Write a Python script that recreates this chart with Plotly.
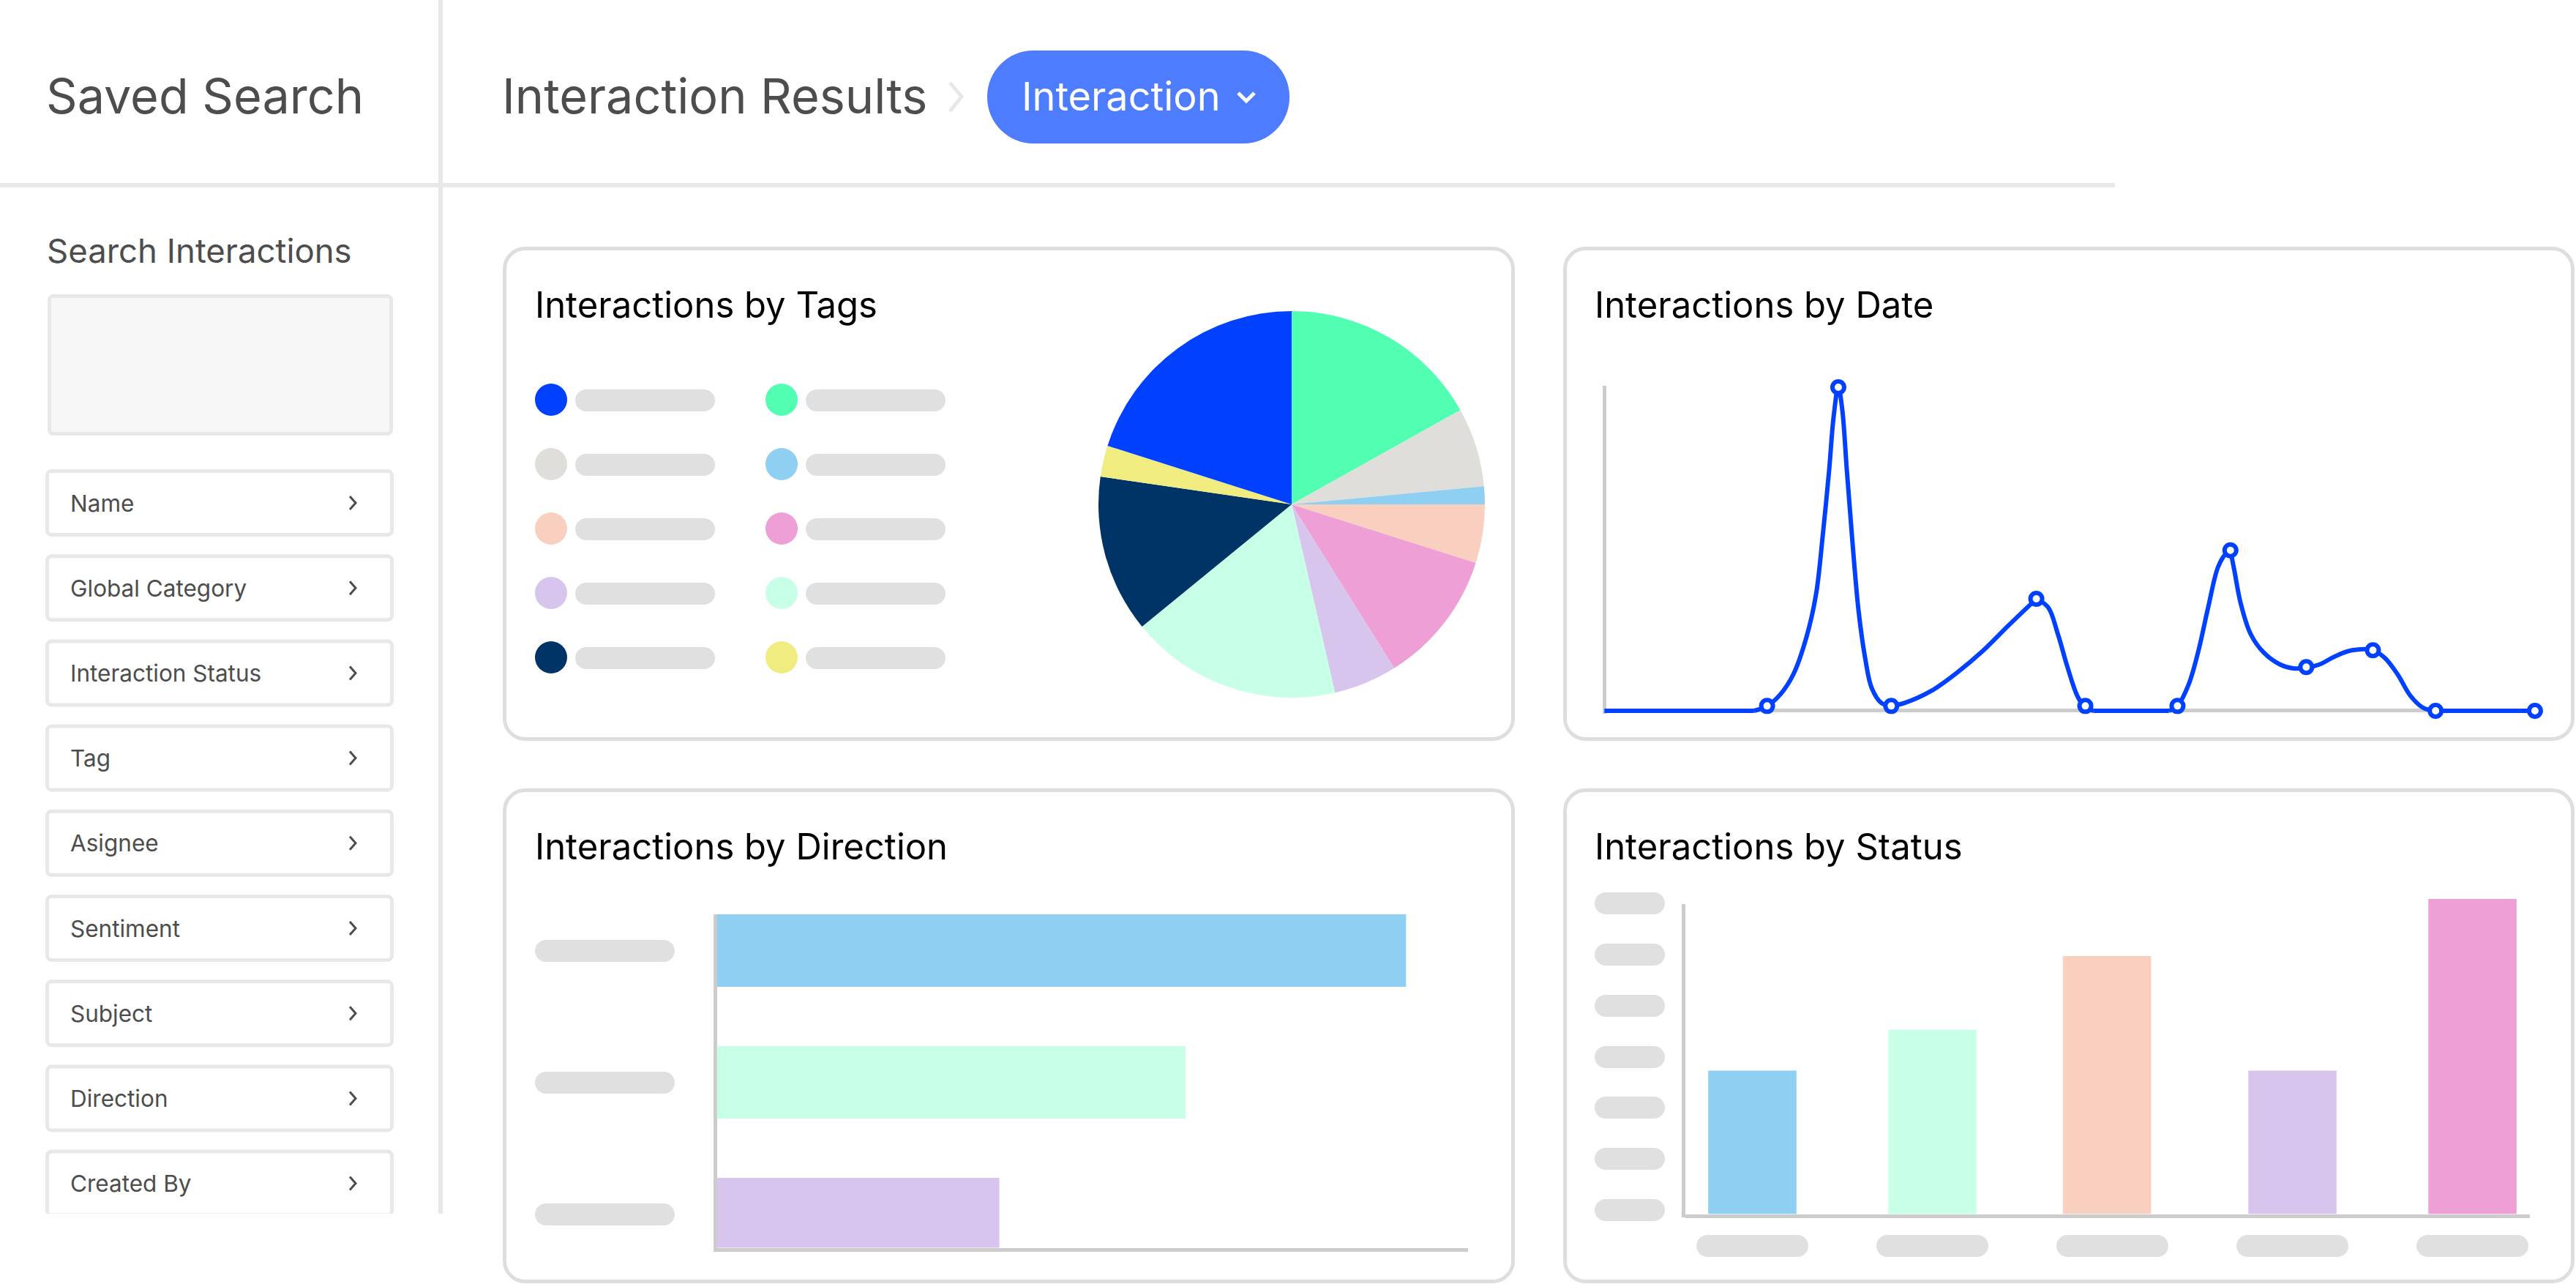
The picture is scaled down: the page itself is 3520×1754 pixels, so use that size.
import plotly.graph_objects as go

W, H = 3520, 1754
FONT = "Inter"
TEXT_GREY = "#4d4d4d"
RULE_GREY = "#e8e8e8"
CARD_GREY = "#dedede"
PILL_GREY = "#e0e0e0"
AXIS_GREY = "#cccccc"
BLUE = "#0040ff"

# sidebar
filter_labels = ["Name", "Global Category", "Interaction Status", "Tag", "Asignee",
                 "Sentiment", "Subject", "Direction", "Created By"]

# pie, clockwise from 12 o'clock
tag_values = [16.9, 6.6, 1.5, 4.9, 11.2, 5.3, 17.7, 13.2, 2.6, 20.1]
tag_colors = ["#52ffb2", "#dfdeda", "#8ecff2", "#f9cfc0", "#ee9fd5",
              "#d7c5ee", "#c8ffe7", "#003366", "#f0ec80", "#0040ff"]
legend_left = ["#0040ff", "#dfdeda", "#f9cfc0", "#d7c5ee", "#003366"]
legend_right = ["#52ffb2", "#8ecff2", "#ee9fd5", "#c8ffe7", "#f0ec80"]

# line chart, curve; None splits it where the original has a corner
date_x = [0, 229, None,
          229, 249, 269, 289, 309, 324, 334, 344, 351, 358, 364, 371, 379, 389,
          399, 409, 424, 439, None,
          439, 459, 499, 539, 579, 619, 661, None,
          661, 679, 694, 709, 724, 736, 749, None,
          749, 864, None,
          864, 877, 894, 909, 924, 939, 951, 958, None,
          958, 964, 974, 989, 1009, 1034, 1054, 1074,
          1094, 1119, 1144, 1176, 1194, 1214, 1234, 1254, 1272, None,
          1272, 1424]
date_y = [0, 0, None,
          0, 1.5, 5, 11.2, 22.6, 36.1, 53.8, 74.5, 91.2, 100, 93.2, 74.5, 53.8, 30.9,
          16.4, 7.1, 2.4, 1.5, None,
          1.5, 2.4, 6, 11.7, 18.5, 26.5, 34.6, None,
          34.6, 32, 23.7, 13.3, 4.5, 1.0, 0, None,
          0, 0, None,
          0, 1.5, 8.1, 18.5, 32, 44.4, 48.6, 49.6, None,
          49.6, 43.4, 33, 23.7, 18, 14.3, 13.1, 13.3,
          14.3, 16.9, 18.7, 18.7, 16.4, 11.2, 4.5, 0.8, 0, None,
          0, 0]
marker_x = [249, 358, 439, 661, 736, 877, 958, 1074, 1176, 1272, 1424]
marker_y = [1.5, 100, 1.5, 34.6, 1.5, 1.5, 49.6, 13.5, 18.7, 0, 0]

# horizontal bars
direction_pos = [0, 1, 2]
direction_values = [100, 68, 41]
direction_colors = ["#8ecff2", "#c8ffe7", "#d7c5ee"]

# vertical bars
status_pos = [0, 1, 1.97, 3, 4]
status_values = [45.5, 58.5, 81.9, 45.5, 100]
status_colors = ["#8ecff2", "#c8ffe7", "#f9cfc0", "#d7c5ee", "#ee9fd5"]


def dom_x(a, b):
    return [a / W, b / W]


def dom_y(top, bottom):
    return [1 - bottom / H, 1 - top / H]


def round_rect(x0, y0, x1, y1, r):
    k = r * 0.448
    return (f"M {x0 + r} {y0} L {x1 - r} {y0} C {x1 - k} {y0} {x1} {y0 + k} {x1} {y0 + r} "
            f"L {x1} {y1 - r} C {x1} {y1 - k} {x1 - k} {y1} {x1 - r} {y1} "
            f"L {x0 + r} {y1} C {x0 + k} {y1} {x0} {y1 - k} {x0} {y1 - r} "
            f"L {x0} {y0 + r} C {x0} {y0 + k} {x0 + k} {y0} {x0 + r} {y0} Z")


shapes = []


def box(x0, y0, x1, y1, r, fill="white", line=None, width=0):
    inset = width / 2
    shapes.append(dict(type="path", xref="x", yref="y",
                       path=round_rect(x0 + inset, y0 + inset, x1 - inset, y1 - inset, r),
                       fillcolor=fill, line=dict(color=line or fill, width=width), layer="below"))


def pill(x0, y0, x1, y1):
    box(x0, y0, x1, y1, (y1 - y0) / 2 - 0.01, fill=PILL_GREY)


def chevron(points, color, width):
    path = "M " + " L ".join(f"{x} {y}" for x, y in points)
    shapes.append(dict(type="path", xref="x", yref="y", path=path, fillcolor="rgba(0,0,0,0)",
                       line=dict(color=color, width=width), layer="below"))


def rule(x0, y0, x1, y1, color=RULE_GREY):
    box(x0, y0, x1, y1, 0.01, fill=color)


annotations = []


def label(x, y, text, size, color=TEXT_GREY):
    annotations.append(dict(xref="x", yref="y", x=x, y=y, text=text, showarrow=False,
                            xanchor="left", yanchor="middle", borderpad=0,
                            font=dict(family=FONT, size=size, color=color)))


# page frame
rule(599, 0, 605, 1658)
rule(0, 250, 2890, 256)

# header
label(62, 131, "Saved Search", 66.5)
label(685, 131, "Interaction Results", 66.5)
chevron([(1298, 113), (1314, 132), (1298, 152)], RULE_GREY, 5)
box(1349, 69, 1762, 196, 63, fill="#4d7cff")
label(1395, 131, "Interaction", 54, "white")
chevron([(1692, 127), (1703, 138), (1714, 127)], "white", 5)

# sidebar
label(63, 342, "Search Interactions", 45.5)
box(65, 402, 537, 595, 5, fill="#f7f7f7", line=RULE_GREY, width=5)
for i, name in enumerate(filter_labels):
    top = 641 + i * 116.2
    box(62, top, 538, top + 92, 6, line=RULE_GREY, width=5)
    label(95, top + 46, name, 31.5)
    chevron([(478, top + 37), (486, top + 46), (478, top + 55)], TEXT_GREY, 3)
box(55, 1658, 610, 1700, 0.01)

# cards
for x0, y0, x1, y1 in [(687, 337, 2070, 1012), (2136, 337, 3518, 1012),
                       (687, 1077, 2070, 1753), (2136, 1077, 3518, 1753)]:
    box(x0, y0, x1, y1, 28, line=CARD_GREY, width=5)
label(730, 416, "Interactions by Tags", 49, "black")
label(2178, 416, "Interactions by Date", 49, "black")
label(730, 1156, "Interactions by Direction", 49, "black")
label(2178, 1156, "Interactions by Status", 49, "black")

# legend and axis placeholders
for y in [532, 620, 708, 796, 884]:
    pill(786, y, 977, y + 30)
    pill(1101, y, 1292, y + 30)
for y in [1284, 1464, 1644]:
    pill(731, y, 922, y + 30)
for y in [1219, 1289, 1359, 1429, 1498, 1568, 1638]:
    pill(2179, y, 2275, y + 30)
for x in [2318, 2564, 2810, 3056, 3302]:
    pill(x, 1687, x + 153, 1717)
rule(2298, 1235, 2303, 1663, AXIS_GREY)

fig = go.Figure()

legend_rows = [546, 634, 722, 810, 898]
fig.add_trace(go.Scatter(x=[753] * 5 + [1068] * 5, y=legend_rows + legend_rows, mode="markers",
                         marker=dict(size=44, color=legend_left + legend_right),
                         hoverinfo="skip", xaxis="x", yaxis="y"))

fig.add_trace(go.Pie(values=tag_values, sort=False, direction="clockwise", rotation=0,
                     marker=dict(colors=tag_colors, line=dict(width=0)), textinfo="none",
                     domain=dict(x=dom_x(1501, 2029), y=dom_y(425, 953))))

fig.add_trace(go.Scatter(x=date_x, y=date_y, mode="lines", connectgaps=False,
                         line=dict(color=BLUE, width=6, shape="spline", smoothing=1),
                         cliponaxis=False, xaxis="x2", yaxis="y2"))
fig.add_trace(go.Scatter(x=marker_x, y=marker_y, mode="markers", cliponaxis=False,
                         marker=dict(size=16, color="white", line=dict(color=BLUE, width=6)),
                         xaxis="x2", yaxis="y2"))

fig.add_trace(go.Bar(x=direction_values, y=direction_pos, orientation="h", width=0.55,
                     marker=dict(color=direction_colors, line=dict(width=0)), xaxis="x3", yaxis="y3"))

fig.add_trace(go.Bar(x=status_pos, y=status_values, width=0.49,
                     marker=dict(color=status_colors, line=dict(width=0)), xaxis="x4", yaxis="y4"))

hidden = dict(showgrid=False, zeroline=False, showticklabels=False, ticks="", fixedrange=True)
axis_line = dict(hidden, showline=True, linecolor=AXIS_GREY, linewidth=5, layer="below traces")
zero_line = dict(hidden, zeroline=True, zerolinecolor=AXIS_GREY, zerolinewidth=5)

fig.update_layout(
    width=W, height=H, showlegend=False, margin=dict(l=0, r=0, t=0, b=0),
    paper_bgcolor="white", plot_bgcolor="rgba(0,0,0,0)",
    shapes=shapes, annotations=annotations,
    xaxis=dict(hidden, visible=False, domain=[0, 1], range=[0, W]),
    yaxis=dict(hidden, visible=False, domain=[0, 1], range=[H, 0]),
    xaxis2=dict(zero_line, domain=dom_x(2189.6, 3464.8), range=[-3, 1425], anchor="y2"),
    yaxis2=dict(zero_line, domain=dom_y(526.8, 975.4), range=[-1, 100.5], anchor="x2"),
    xaxis3=dict(axis_line, domain=dom_x(979.5, 2006), range=[0, 109], anchor="y3"),
    yaxis3=dict(axis_line, domain=dom_y(1249, 1704.5), range=[2.256, -0.275], anchor="x3"),
    xaxis4=dict(axis_line, domain=dom_x(2303, 3457), range=[-0.372, 4.319], anchor="y4"),
    yaxis4=dict(hidden, domain=dom_y(1228, 1658.5), range=[0, 100], anchor="x4"),
)

fig.write_html("out.html", config={"displayModeBar": False},
               post_script="document.body.style.margin='0';")
